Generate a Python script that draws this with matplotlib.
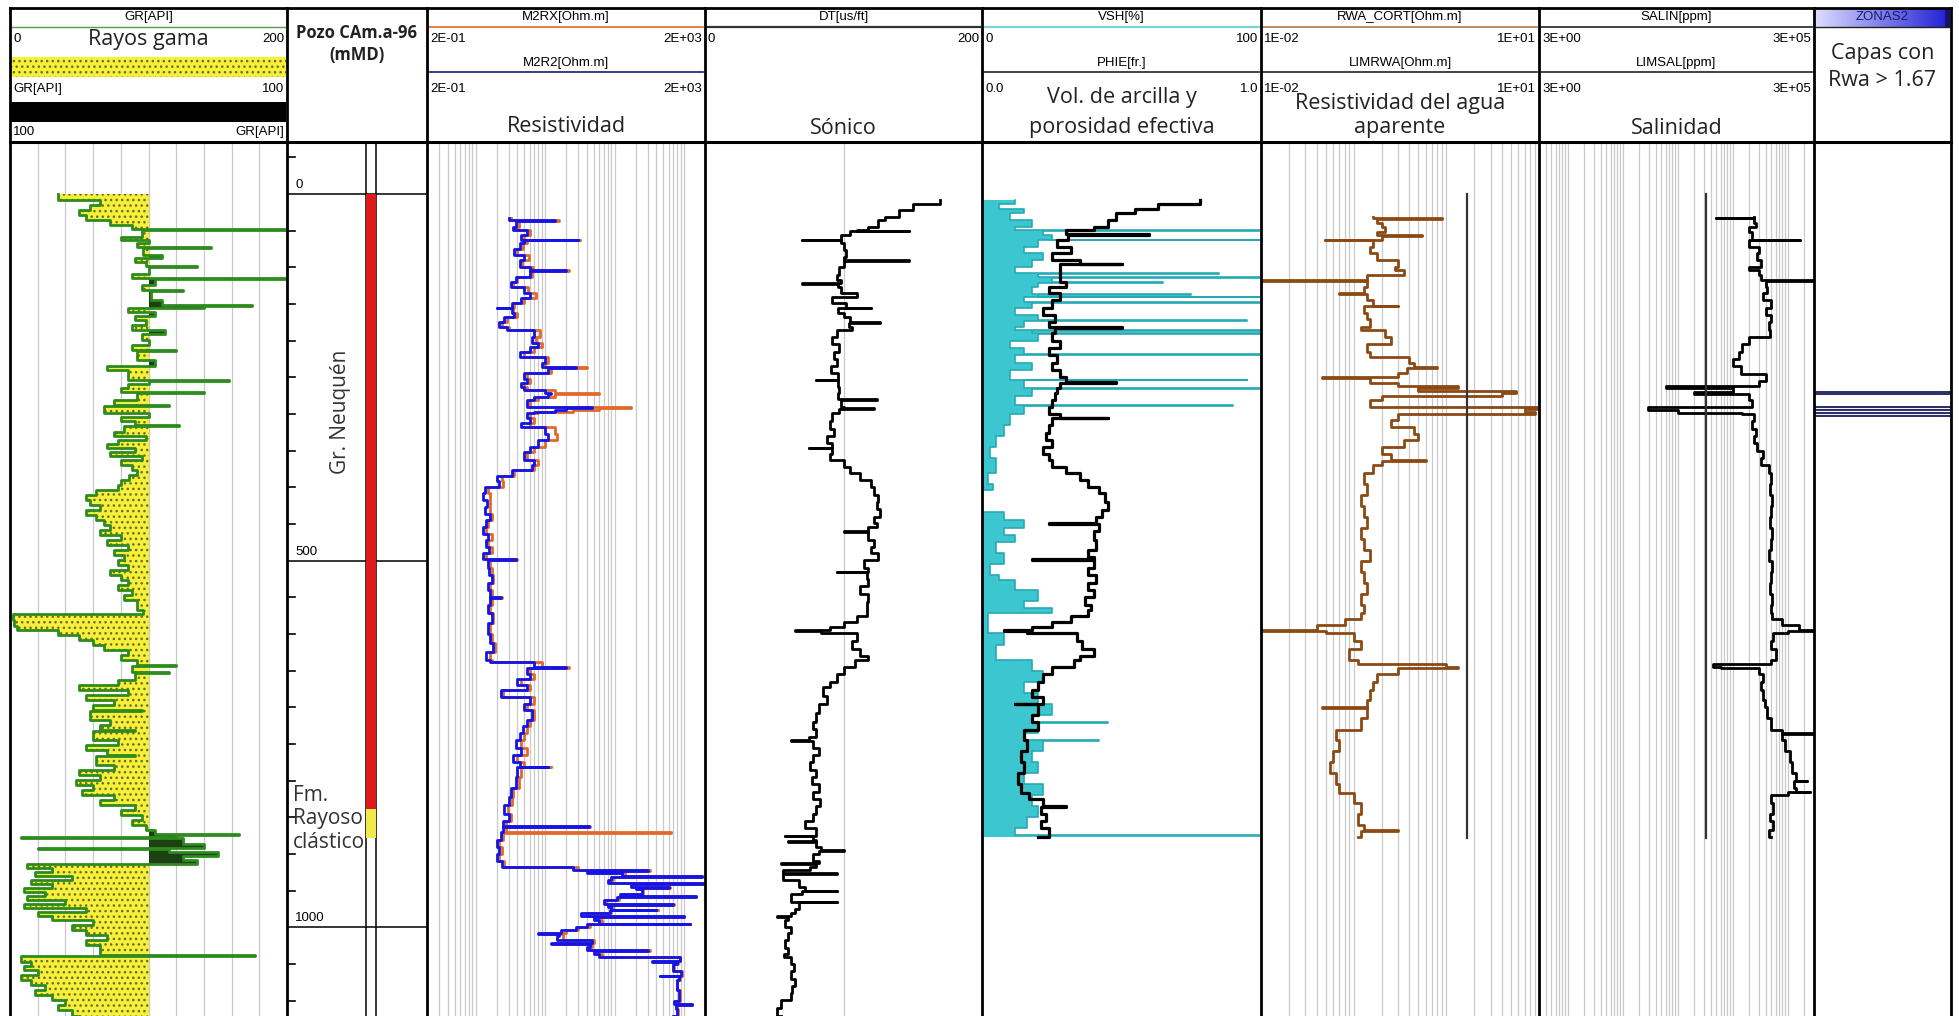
import numpy as np
import matplotlib.pyplot as plt
from matplotlib.patches import Rectangle
from matplotlib.colors import LinearSegmentedColormap
from matplotlib.ticker import LogLocator, MultipleLocator, FixedLocator, NullLocator

plt.rcParams['hatch.color'] = '#6b6b25'
plt.rcParams['hatch.linewidth'] = 1.0

SMALL = ['Liberation Sans Narrow', 'Liberation Sans', 'DejaVu Sans']
BIG = ['Open Sans', 'DejaVu Sans']

# ---------------- log data (depth m, value) ----------------
GR_LOG = [(0, 35), (8, 65), (15, 58), (22, 50), (29, 55), (35, 72), (42, 88), (48, 200), (49, 95),
          (59, 80), (63, 100), (67, 92), (72, 145), (73, 96), (83, 110), (87, 90), (93, 98), (98, 135),
          (99, 100), (109, 88), (115, 200), (116, 105), (124, 95), (131, 125), (132, 102), (145, 110),
          (151, 175), (152, 140), (155, 85), (161, 105), (166, 90), (172, 98), (179, 88), (186, 112),
          (191, 95), (199, 100), (206, 88), (213, 120), (214, 92), (226, 105), (235, 70), (240, 85),
          (254, 158), (255, 100), (259, 85), (265, 80), (270, 140), (271, 92), (281, 75), (288, 115),
          (289, 68), (299, 100), (304, 80), (310, 90), (315, 122), (316, 82), (325, 75), (330, 98),
          (336, 78), (341, 70), (346, 90), (352, 72), (357, 95), (363, 80), (370, 88), (376, 92),
          (383, 86), (390, 80), (397, 78), (404, 62), (411, 55), (417, 58), (424, 65), (431, 55),
          (438, 62), (445, 68), (451, 72), (458, 65), (465, 80), (472, 70), (479, 85), (486, 75),
          (492, 82), (499, 78), (506, 85), (513, 72), (520, 80), (527, 85), (533, 78), (540, 88),
          (547, 82), (554, 92), (561, 92), (567, 96), (573, 2), (581, 3), (589, 5), (595, 35),
          (602, 50), (608, 60), (615, 68), (622, 85), (629, 80), (636, 92), (642, 120), (643, 88),
          (652, 115), (653, 90), (663, 78), (670, 50), (677, 85), (683, 55), (690, 75), (697, 60),
          (704, 95), (705, 58), (717, 72), (724, 65), (731, 90), (732, 60), (745, 78), (752, 55),
          (758, 70), (765, 90), (766, 62), (779, 75), (786, 50), (792, 65), (799, 48), (806, 60),
          (813, 52), (820, 75), (827, 65), (833, 90), (840, 80), (847, 95), (854, 88), (861, 98),
          (868, 105), (873, 165), (874, 120), (877, 8), (878, 125), (887, 140), (892, 20), (893, 115),
          (898, 150), (903, 125), (908, 135), (914, 12), (919, 30), (925, 18), (930, 45), (936, 15),
          (941, 30), (947, 10), (952, 25), (958, 12), (963, 40), (968, 10), (974, 55), (979, 20),
          (985, 30), (990, 60), (997, 45), (1004, 55), (1011, 70), (1018, 55), (1024, 65), (1038, 177),
          (1039, 8), (1048, 15), (1053, 10), (1058, 20), (1065, 8), (1072, 15), (1079, 25), (1086, 18),
          (1093, 30), (1099, 40), (1106, 35), (1113, 45), (1121, 50)]

# depth, M2R2, M2RX  (ohm.m)
RES_LOG = [(33, 3.0, 3.2), (36, 14, 16), (37, 3.8, 4.2), (45, 3.5, 3.8), (49, 5.5, 6.0), (56, 4.5, 5.0),
           (62, 30, 32), (63, 5.0, 5.5), (67, 4.3, 4.8), (75, 3.6, 4.0), (83, 5.0, 5.8), (90, 4.3, 4.6),
           (99, 6.0, 6.8), (104, 20, 22), (105, 6, 6.5), (113, 3.8, 4.0), (120, 3.2, 3.5), (127, 5, 5.6),
           (135, 6, 7.5), (142, 4.5, 5.0), (149, 3.3, 3.6), (155, 2.0, 2.2), (156, 3.3, 3.5),
           (162, 3.6, 4.0), (168, 2.6, 2.8), (175, 2.2, 2.4), (181, 2.8, 3.0), (186, 7, 8.5),
           (195, 6.5, 7.5), (203, 8, 9), (209, 6, 7), (215, 4.3, 5), (222, 10, 11), (230, 9, 10),
           (236, 28, 40), (237, 11, 12), (244, 5, 5.5), (252, 5.5, 6), (258, 4.5, 5), (263, 5, 5.5),
           (267, 10, 14), (272, 12, 60), (273, 11, 14), (277, 7, 8), (281, 5.5, 6), (290, 47, 170),
           (292, 20, 60), (294, 14, 25), (297, 7, 8), (299, 5.5, 6), (306, 6, 7), (312, 4.5, 6),
           (318, 10, 14), (327, 11, 15), (336, 8, 10), (345, 6, 7), (352, 5, 5.5), (363, 7, 8),
           (370, 6.5, 7), (376, 3.3, 3.6), (385, 2.0, 2.4), (392, 2.2, 2.5), (400, 1.35, 1.5),
           (408, 1.3, 1.6), (417, 1.45, 1.6), (427, 1.35, 1.6), (436, 1.6, 1.7), (445, 1.4, 1.5),
           (454, 1.3, 1.4), (463, 1.5, 1.7), (472, 1.4, 1.5), (481, 1.55, 1.7), (490, 1.3, 1.4),
           (498, 3.8, 4.0), (499, 1.5, 1.6), (510, 1.55, 1.7), (520, 1.7, 1.8), (530, 1.5, 1.6),
           (540, 1.6, 1.7), (550, 2.3, 2.4), (551, 1.6, 1.7), (560, 1.5, 1.6), (572, 1.7, 1.8),
           (585, 1.5, 1.6), (600, 1.6, 1.7), (612, 1.8, 1.9), (625, 1.4, 1.6), (636, 1.6, 1.7),
           (638, 7, 9), (645, 20, 22), (646, 5.5, 6), (655, 6, 7), (662, 4, 4.5), (670, 5.5, 6),
           (677, 2.3, 2.5), (686, 6, 7), (695, 5, 5.5), (704, 6.5, 7), (717, 5.5, 6), (726, 4.8, 5.5),
           (735, 4.3, 5), (745, 3.8, 4.5), (755, 4.5, 5.5), (765, 3.5, 4), (775, 4.3, 5), (781, 11, 12),
           (782, 4, 4.5), (795, 3.8, 4.2), (810, 3.2, 3.5), (822, 3.0, 3.3), (833, 2.6, 2.9),
           (845, 3.0, 3.2), (855, 2.5, 2.7), (862, 43, 45), (863, 2.5, 2.7), (870, 2.3, 640),
           (871, 2.3, 2.5), (881, 2.0, 2.2), (890, 2.2, 2.4), (900, 2.0, 2.2), (910, 2.4, 2.6),
           (918, 25, 30), (922, 300, 320), (923, 40, 45), (926, 130, 140), (930, 1800, 1800),
           (931, 90, 95), (935, 80, 85), (940, 1870, 1900), (941, 170, 180), (945, 600, 620),
           (946, 200, 210), (948, 250, 260), (955, 120, 130), (958, 1500, 1500), (959, 110, 115),
           (963, 70, 75), (968, 700, 720), (969, 80, 85), (972, 90, 95), (976, 400, 420), (977, 85, 90),
           (981, 33, 40), (985, 1000, 1000), (986, 50, 55), (990, 60, 65), (995, 1200, 1200),
           (996, 40, 45), (1000, 28, 30), (1004, 17, 20), (1008, 8, 9), (1009, 16, 18), (1012, 15, 18),
           (1018, 47, 50), (1022, 12, 14), (1023, 45, 48), (1027, 40, 45), (1031, 300, 320),
           (1032, 50, 55), (1036, 60, 65), (1041, 870, 880), (1046, 350, 360), (1047, 800, 820),
           (1050, 700, 720), (1060, 900, 920), (1066, 450, 460), (1067, 850, 870), (1072, 780, 800),
           (1085, 850, 870), (1100, 720, 740), (1105, 1300, 1300), (1106, 760, 780), (1112, 800, 820),
           (1121, 700, 720)]

DT_LOG = [(8, 170), (14, 150), (22, 140), (31, 130), (35, 125), (45, 118), (49, 110), (50, 147), (51, 105),
          (56, 98), (62, 70), (63, 98), (67, 100), (76, 102), (86, 100), (90, 147), (91, 100), (99, 97),
          (110, 95), (117, 98), (121, 70), (122, 96), (127, 98), (135, 110), (140, 92), (149, 102),
          (155, 120), (156, 96), (162, 100), (168, 105), (175, 126), (176, 104), (181, 106), (186, 95),
          (195, 92), (205, 97), (215, 93), (225, 95), (235, 91), (244, 96), (253, 80), (254, 96),
          (263, 97), (272, 96), (280, 124), (281, 98), (290, 100), (292, 122), (293, 97), (299, 92),
          (310, 90), (320, 93), (330, 88), (340, 92), (346, 75), (347, 92), (355, 90), (363, 100),
          (372, 105), (381, 112), (390, 120), (400, 122), (410, 125), (420, 124), (430, 126), (440, 122),
          (449, 124), (454, 118), (460, 100), (461, 118), (472, 122), (481, 120), (490, 125), (499, 115),
          (510, 118), (515, 95), (516, 117), (525, 118), (535, 112), (545, 118), (556, 117), (567, 117),
          (575, 110), (583, 100), (590, 90), (595, 65), (596, 84), (599, 110), (610, 106), (620, 112),
          (630, 118), (636, 108), (645, 100), (655, 95), (665, 90), (672, 85), (685, 88), (695, 82),
          (708, 80), (720, 78), (730, 80), (740, 75), (745, 62), (746, 78), (755, 82), (765, 78),
          (775, 76), (785, 80), (795, 77), (805, 82), (815, 78), (825, 83), (835, 80), (845, 78),
          (855, 72), (865, 80), (875, 58), (876, 78), (881, 80), (883, 60), (884, 80), (890, 84),
          (895, 100), (896, 82), (900, 78), (910, 82), (913, 55), (914, 80), (918, 76), (922, 56),
          (926, 95), (927, 56), (936, 68), (945, 72), (950, 95), (951, 70), (955, 62), (965, 95),
          (966, 68), (975, 65), (981, 62), (985, 52), (986, 60), (990, 58), (1000, 62), (1008, 60),
          (1018, 58), (1028, 60), (1036, 57), (1041, 62), (1050, 64), (1060, 62), (1070, 65), (1080, 63),
          (1090, 62), (1099, 55), (1110, 52), (1121, 55)]

VSH_LOG = [(8, 78), (14, 63), (20, 55), (26, 48), (35, 45), (45, 40), (49, 30), (55, 60), (56, 31), (63, 27),
           (72, 32), (80, 25), (90, 35), (95, 50), (96, 28), (108, 28), (120, 30), (127, 24), (135, 28),
           (145, 25), (155, 22), (165, 26), (175, 24), (181, 50), (182, 26), (190, 25), (200, 28), (210, 24),
           (220, 27), (230, 25), (240, 28), (250, 30), (257, 48), (258, 28), (265, 27), (271, 26), (281, 25),
           (290, 24), (300, 28), (305, 45), (306, 25), (315, 24), (326, 23), (336, 25), (345, 22), (355, 24),
           (363, 25), (372, 30), (381, 35), (390, 38), (400, 42), (408, 44), (420, 45), (431, 43), (440, 41),
           (449, 24), (450, 42), (460, 40), (472, 41), (485, 38), (495, 40), (498, 18), (499, 40), (510, 38),
           (520, 41), (530, 38), (540, 40), (550, 37), (560, 39), (567, 38), (575, 32), (583, 25), (590, 18),
           (595, 8), (596, 16), (599, 34), (610, 36), (620, 40), (630, 35), (636, 33), (645, 25), (655, 22),
           (665, 20), (677, 18), (686, 22), (695, 12), (696, 20), (710, 18), (720, 20), (731, 15), (745, 16),
           (760, 14), (775, 15), (790, 13), (805, 14), (817, 17), (825, 22), (835, 30), (836, 21), (845, 23),
           (855, 21), (865, 24), (877, 20)]

PHIE_LOG = [(8, 0.12), (14, 0.06), (20, 0.15), (26, 0.10), (35, 0.18), (45, 0.12), (49, 1.0), (50, 0.22),
            (56, 0.25), (62, 1.0), (63, 0.2), (72, 0.15), (80, 0.22), (90, 0.18), (99, 0.12), (108, 0.85),
            (109, 0.2), (113, 1.0), (114, 0.25), (120, 0.65), (121, 0.2), (127, 0.18), (136, 0.75),
            (137, 0.2), (140, 1.0), (141, 0.15), (147, 1.0), (148, 0.18), (155, 0.12), (165, 0.2),
            (172, 0.95), (173, 0.15), (181, 0.12), (186, 1.0), (187, 0.18), (190, 1.0), (191, 0.2),
            (200, 0.1), (210, 0.15), (218, 1.0), (219, 0.12), (230, 0.18), (240, 0.1), (253, 0.95),
            (254, 0.15), (265, 1.0), (266, 0.18), (275, 0.12), (288, 0.9), (289, 0.15), (300, 0.1),
            (315, 0.08), (330, 0.05), (345, 0.03), (360, 0.05), (380, 0.02), (395, 0.04), (404, 0.0),
            (433, 0.08), (445, 0.15), (455, 0.08), (465, 0.12), (475, 0.05), (490, 0.08), (505, 0.03),
            (520, 0.06), (527, 0.12), (540, 0.2), (555, 0.15), (565, 0.25), (572, 0.02), (599, 0.08),
            (615, 0.05), (636, 0.18), (650, 0.22), (665, 0.15), (680, 0.2), (695, 0.25), (710, 0.18),
            (720, 0.45), (721, 0.2), (735, 0.15), (745, 0.42), (746, 0.22), (760, 0.18), (775, 0.2),
            (790, 0.15), (805, 0.22), (820, 0.18), (835, 0.2), (850, 0.16), (865, 0.12), (874, 1.0),
            (877, 1.0)]

RWA_LOG = [(31, 0.16), (33, 0.9), (34, 0.18), (40, 0.2), (45, 0.22), (52, 0.18), (56, 0.55), (57, 0.2),
           (62, 0.049), (63, 0.16), (72, 0.15), (80, 0.18), (90, 0.3), (99, 0.28), (104, 0.35), (110, 0.14),
           (117, 0.01), (118, 0.14), (127, 0.13), (135, 0.07), (136, 0.14), (145, 0.16), (152, 0.3),
           (153, 0.13), (162, 0.14), (170, 0.15), (181, 0.12), (186, 0.22), (195, 0.25), (205, 0.14),
           (215, 0.15), (222, 0.4), (230, 0.45), (236, 0.8), (237, 0.38), (244, 0.3), (250, 0.045),
           (251, 0.15), (258, 0.3), (262, 1.35), (265, 0.5), (268, 5.6), (272, 4.0), (275, 0.2), (281, 0.15),
           (290, 9.5), (293, 7), (297, 9), (300, 0.3), (308, 0.25), (318, 0.45), (327, 0.5), (336, 0.35),
           (345, 0.2), (355, 0.25), (363, 0.6), (364, 0.2), (370, 0.16), (381, 0.13), (395, 0.14),
           (410, 0.12), (425, 0.13), (440, 0.14), (455, 0.12), (470, 0.13), (485, 0.15), (500, 0.12),
           (515, 0.13), (530, 0.14), (545, 0.12), (560, 0.13), (572, 0.12), (580, 0.08), (588, 0.04),
           (595, 0.01), (596, 0.05), (599, 0.1), (610, 0.12), (620, 0.09), (636, 0.11), (641, 1.0),
           (645, 1.35), (647, 0.3), (655, 0.18), (665, 0.16), (677, 0.15), (690, 0.14), (700, 0.045),
           (701, 0.14), (715, 0.12), (731, 0.065), (745, 0.07), (760, 0.06), (775, 0.055), (790, 0.065),
           (805, 0.07), (817, 0.1), (830, 0.12), (845, 0.11), (860, 0.13), (868, 0.3), (869, 0.12),
           (877, 0.11)]

SALIN_LOG = [(31, 2.4e4), (32, 5e3), (33, 2.4e4), (40, 2.6e4), (45, 2.0e4), (52, 2.2e4), (62, 1.7e5),
             (63, 2.0e4), (72, 3e4), (80, 2.8e4), (90, 3.2e4), (99, 2.0e4), (104, 3e4), (110, 3.3e4),
             (117, 3e5), (118, 4e4), (127, 4.2e4), (135, 3.5e4), (145, 5e4), (155, 4e4), (165, 5e4),
             (175, 4.5e4), (186, 4.8e4), (195, 2e4), (205, 1.5e4), (215, 1.3e4), (225, 1.0e4), (235, 1.4e4),
             (245, 4e4), (255, 3e4), (262, 600), (265, 1e4), (270, 2e3), (273, 2e4), (281, 2.2e4), (290, 290),
             (294, 1e3), (298, 1.5e4), (300, 2.4e4), (310, 2.2e4), (320, 2.6e4), (330, 2.4e4), (340, 2.8e4),
             (350, 3.5e4), (360, 3.2e4), (370, 4.5e4), (381, 5e4), (395, 4.8e4), (410, 5.2e4), (425, 5e4),
             (440, 4.8e4), (455, 5.2e4), (470, 5e4), (485, 4.6e4), (500, 5.2e4), (515, 5e4), (530, 4.8e4),
             (545, 5.2e4), (560, 5e4), (572, 5.2e4), (580, 8e4), (588, 1.6e5), (595, 2.9e5), (596, 1e5),
             (599, 5.4e4), (610, 5e4), (620, 6e4), (636, 5e4), (641, 4.4e3), (645, 6e3), (647, 3e4),
             (655, 3.5e4), (665, 3.3e4), (677, 3.5e4), (690, 3.8e4), (700, 4.2e4), (715, 5e4), (731, 8e4),
             (735, 3e5), (736, 8e4), (745, 9e4), (760, 1.1e5), (775, 1.2e5), (790, 1.4e5), (800, 2.2e5),
             (801, 1.3e5), (810, 1.4e5), (815, 2.5e5), (816, 1e5), (820, 5e4), (830, 5.4e4), (845, 4.8e4),
             (855, 5.5e4), (868, 4.5e4), (877, 5e4)]

limrwa_depth = [0, 878]
limrwa_val = [1.67, 1.67]
limsal_depth = [0, 878]
limsal_val = [3.3e3, 3.3e3]

zone_top = [270, 291, 298]
zone_base = [273, 294, 303]

formations = ['Gr. Neuquén', 'Fm.\nRayoso\nclástico']
form_top = [0, 839]
form_base = [839, 878]
form_color = ['#dd1a1a', '#f2e84a']

depth_minor = [-50, 50, 100, 150, 200, 250, 300, 350, 400, 450, 550, 600, 650, 700, 750, 800, 850,
               900, 950, 1050, 1100]
depth_major = [0, 500, 1000]


def unpack(rows):
    return [np.array(c, dtype=float) for c in zip(*rows)]


# ---------------- layout ----------------
W, H = 1959, 1016
TOP = 142
DMIN, DMAX = -71.0, 1121.0
edges = [10, 287, 427, 705, 982, 1261, 1539, 1814, 1951]
LW = 2.0      # curve width, the log traces are drawn heavy

fig = plt.figure(figsize=(W / 100, H / 100), dpi=100)
fig.patch.set_facecolor('white')


def bare(ax):
    for s in ax.spines.values():
        s.set_visible(False)
    ax.yaxis.set_major_locator(NullLocator())
    ax.yaxis.set_minor_locator(NullLocator())
    ax.xaxis.set_minor_locator(NullLocator())
    ax.tick_params(which='both', length=0, labelbottom=False, labelleft=False,
                   labeltop=False, labelright=False)


def make_track(i, xlim, scale='linear', grid=None):
    x0, x1 = edges[i], edges[i + 1]
    ax = fig.add_axes([x0 / W, 0, (x1 - x0) / W, (H - TOP) / H])
    ax.set_xscale(scale)
    ax.set_xlim(*xlim)
    ax.set_ylim(DMAX, DMIN)
    ax.xaxis.set_major_locator(grid if grid is not None else NullLocator())
    bare(ax)
    ax.grid(True, axis='x', color='#c9c9c9', lw=0.9)
    ax.set_axisbelow(True)
    return ax


def log_grid():
    return LogLocator(base=10, subs=np.arange(1, 10), numticks=200)


def twin(ax, xlim, scale='linear'):
    t = ax.twiny()
    t.set_xscale(scale)
    t.set_xlim(*xlim)
    t.xaxis.set_major_locator(NullLocator())
    bare(t)
    return t


# GR track
gd, gr = unpack(GR_LOG)
ax = make_track(0, (0, 200), grid=MultipleLocator(20))
ax.fill_betweenx(gd, np.minimum(gr, 100), 100, step='post', facecolor='#f6f03a',
                 edgecolor='#6b6b25', hatch='...', linewidth=0, zorder=2)
ax.fill_betweenx(gd, 100, np.maximum(gr, 100), step='post', facecolor='#1d4012',
                 linewidth=0, zorder=2)
ax.plot(gr, gd, color='#2e8b1e', lw=LW, drawstyle='steps-pre', zorder=3)

# depth track
axd = fig.add_axes([edges[1] / W, 0, (edges[2] - edges[1]) / W, (H - TOP) / H])
axd.set_xlim(0, 1)
axd.set_ylim(DMAX, DMIN)
bare(axd)
axd.xaxis.set_major_locator(NullLocator())
for d in depth_minor:
    axd.plot([0, 0.057], [d, d], color='black', lw=1.2)
for d in depth_major:
    axd.plot([0, 1], [d, d], color='black', lw=1.1)
    axd.text(0.06, d - 4, str(d), ha='left', va='bottom', fontsize=9.5, family=SMALL)
for xb in (0.564, 0.636):
    axd.axvline(xb, color='black', lw=1.1)
for t, b, c in zip(form_top, form_base, form_color):
    axd.fill_betweenx([t, b], 0.564, 0.636, color=c, lw=0, zorder=2)
axd.text(0.38, 297, formations[0], rotation=90, ha='center', va='center', fontsize=15,
         family=BIG, color='#333333')
axd.text(0.043, 852, formations[1], ha='left', va='center', fontsize=15, family=BIG,
         color='#333333', linespacing=1.15)

# resistivity track
rd, r2, rx = unpack(RES_LOG)
ax = make_track(2, (0.2, 2000), 'log', log_grid())
ax.plot(rx, rd, color='#e2692c', lw=LW, drawstyle='steps-pre', zorder=3)
ax.plot(r2, rd, color='#1414e6', lw=LW, drawstyle='steps-pre', zorder=4)

# sonic track
dd, dt = unpack(DT_LOG)
ax = make_track(3, (0, 200), grid=FixedLocator([100]))
ax.plot(dt, dd, color='black', lw=LW, drawstyle='steps-pre', zorder=3)

# VSH / PHIE track
pd_, ph = unpack(PHIE_LOG)
vd, vsh = unpack(VSH_LOG)
ax = make_track(4, (0, 1))
ax.fill_betweenx(pd_, 0, ph, step='post', facecolor='#3cc6cf', linewidth=0, zorder=2)
ax.plot(ph, pd_, color='#25aab4', lw=1.2, drawstyle='steps-pre', zorder=3)
tv = twin(ax, (0, 100))
tv.plot(vsh, vd, color='black', lw=LW + 0.3, drawstyle='steps-pre', zorder=4)

# RWA track
wd, rwa = unpack(RWA_LOG)
ax = make_track(5, (0.01, 10), 'log', log_grid())
ax.plot(rwa, wd, color='#8b4a14', lw=LW, drawstyle='steps-pre', zorder=3)
ax.plot(limrwa_val, limrwa_depth, color='#333333', lw=1.6, zorder=4)

# salinity track
sd, sal = unpack(SALIN_LOG)
ax = make_track(6, (3, 3e5), 'log', log_grid())
ax.plot(sal, sd, color='black', lw=LW, drawstyle='steps-pre', zorder=3)
ax.plot(limsal_val, limsal_depth, color='#333333', lw=1.6, zorder=4)

# zones track
ax = make_track(7, (0, 1))
for t, b in zip(zone_top, zone_base):
    ax.axhspan(t, b, facecolor='#f2f2ff', edgecolor='#1c1c5c', lw=1.3)

# ---------------- header / borders overlay ----------------
ov = fig.add_axes([0, 0, 1, 1])
ov.set_zorder(10)
ov.patch.set_visible(False)
ov.axis('off')


def htxt(x, y, s, ha='center', size=9.5, fam=SMALL, **kw):
    ov.text(x, y, s, ha=ha, va='center', fontsize=size, family=fam, **kw)


def hline(i, y, color, lw=1.0):
    ov.plot([edges[i] + 2, edges[i + 1] - 2], [y, y], color=color, lw=lw)


def scale_row(i, y, left, right):
    htxt(edges[i] + 3, y, left, ha='left')
    htxt(edges[i + 1] - 3, y, right, ha='right')


def centre(i):
    return (edges[i] + edges[i + 1]) / 2


BIGSZ = 15.5

# GR header
htxt(centre(0), 17, 'GR[API]')
hline(0, 27, '#5a9a50')
scale_row(0, 39, '0', '200')
htxt(centre(0), 39, 'Rayos gama', size=BIGSZ, fam=BIG, color='#222222')
ov.add_patch(Rectangle((11, 57), 275, 20, facecolor='#f6f03a', edgecolor='#6b6b25',
                       hatch='...', lw=0))
scale_row(0, 89, 'GR[API]', '100')
ov.add_patch(Rectangle((11, 102), 275, 20, facecolor='black', lw=0))
scale_row(0, 132, '100', 'GR[API]')

# depth header
htxt(centre(1), 33, 'Pozo CAm.a-96', size=12, fam=BIG, weight='bold', color='#222222')
htxt(centre(1), 55, '(mMD)', size=12, fam=BIG, weight='bold', color='#222222')

# resistivity header
htxt(centre(2), 17, 'M2RX[Ohm.m]')
hline(2, 27, '#e2692c', 1.2)
scale_row(2, 39, '2E-01', '2E+03')
htxt(centre(2), 63, 'M2R2[Ohm.m]')
hline(2, 72, '#1a1a70', 1.2)
scale_row(2, 89, '2E-01', '2E+03')
htxt(centre(2), 127, 'Resistividad', size=BIGSZ, fam=BIG, color='#222222')

# sonic header
htxt(centre(3), 17, 'DT[us/ft]')
hline(3, 27, '#333333', 1.6)
scale_row(3, 39, '0', '200')
htxt(centre(3), 128, 'Sónico', size=BIGSZ, fam=BIG, color='#222222')

# vsh header
htxt(centre(4), 17, 'VSH[%]')
hline(4, 27, '#7fd0d4', 1.6)
scale_row(4, 39, '0', '100')
htxt(centre(4), 63, 'PHIE[fr.]')
hline(4, 72, '#222222', 1.2)
scale_row(4, 89, '0.0', '1.0')
htxt(centre(4), 98, 'Vol. de arcilla y', size=BIGSZ, fam=BIG, color='#222222')
htxt(centre(4), 128, 'porosidad efectiva', size=BIGSZ, fam=BIG, color='#222222')

# rwa header
htxt(centre(5), 17, 'RWA_CORT[Ohm.m]')
hline(5, 27, '#b07848', 1.2)
scale_row(5, 39, '1E-02', '1E+01')
htxt(centre(5), 63, 'LIMRWA[Ohm.m]')
hline(5, 72, '#222222', 1.2)
scale_row(5, 89, '1E-02', '1E+01')
htxt(centre(5), 104, 'Resistividad del agua', size=BIGSZ, fam=BIG, color='#222222')
htxt(centre(5), 127, 'aparente', size=BIGSZ, fam=BIG, color='#222222')

# salinity header
htxt(centre(6), 17, 'SALIN[ppm]')
hline(6, 27, '#222222', 1.2)
scale_row(6, 39, '3E+00', '3E+05')
htxt(centre(6), 63, 'LIMSAL[ppm]')
hline(6, 72, '#222222', 1.2)
scale_row(6, 89, '3E+00', '3E+05')
htxt(centre(6), 128, 'Salinidad', size=BIGSZ, fam=BIG, color='#222222')

# zones header
zcmap = LinearSegmentedColormap.from_list('zh', ['#dcdcff', '#2626d6'])
ov.imshow(np.linspace(0, 1, 64).reshape(1, -1), cmap=zcmap, aspect='auto',
          extent=(1815, 1945, 27, 9), zorder=1)
ov.add_patch(Rectangle((1945, 9), 5, 18, facecolor='#14146a', lw=0, zorder=2))
htxt(centre(7), 17, 'ZONAS2', color='#1a1a6a', zorder=3)
hline(7, 27, '#222222', 1.0)
htxt(centre(7), 53, 'Capas con', size=BIGSZ, fam=BIG, color='#222222')
htxt(centre(7), 81, 'Rwa > 1.67', size=BIGSZ, fam=BIG, color='#222222')

# borders
for x in edges:
    ov.plot([x, x], [8, H], color='black', lw=2.0, zorder=5)
ov.plot([edges[0], edges[-1]], [8, 8], color='black', lw=2.0, zorder=5)
ov.plot([edges[0], edges[-1]], [TOP, TOP], color='black', lw=2.2, zorder=5)

ov.set_xlim(0, W)
ov.set_ylim(H, 0)

fig.savefig('out.png', dpi=100, facecolor='white')
